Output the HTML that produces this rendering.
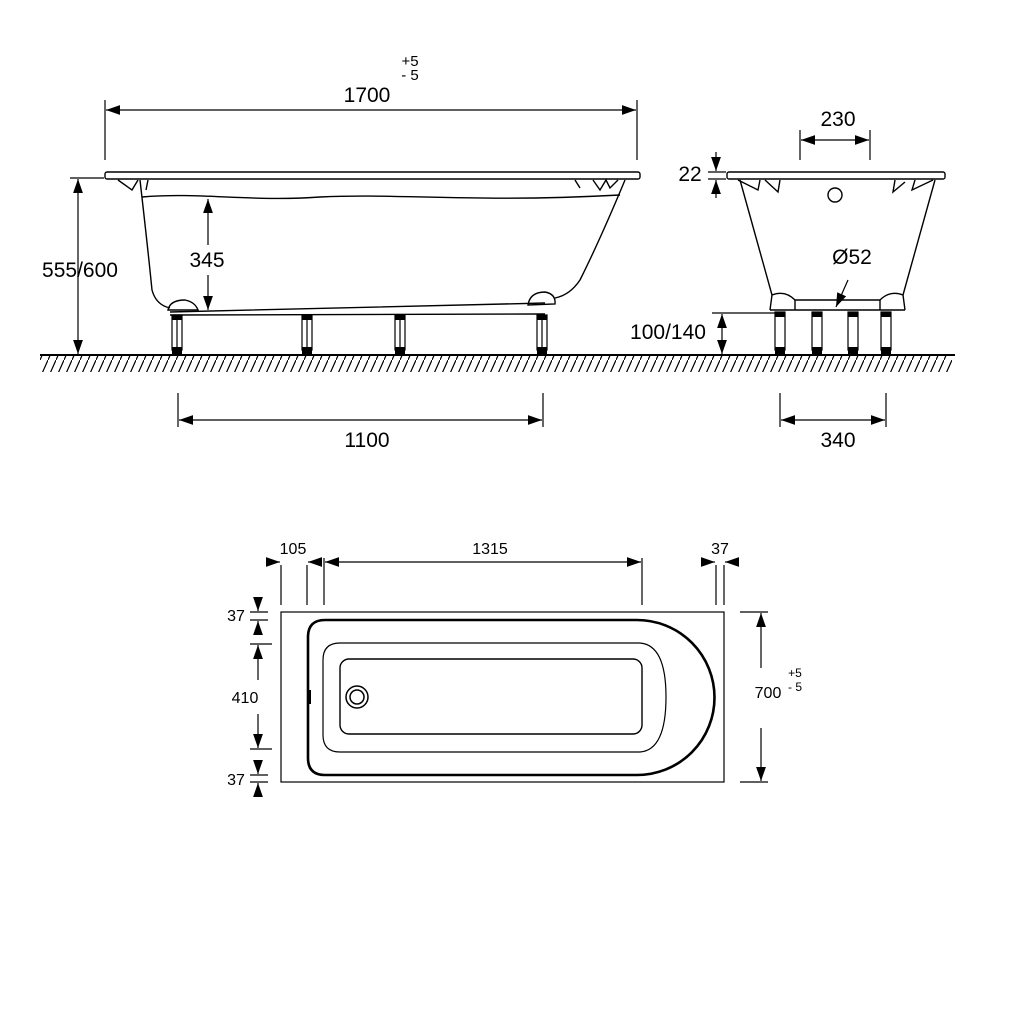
<!DOCTYPE html>
<html><head><meta charset="utf-8"><style>body{margin:0;background:#fff}svg{display:block}text{font-family:"Liberation Sans",sans-serif;fill:#000}</style></head><body>
<svg width="1024" height="1024" viewBox="0 0 1024 1024" xmlns="http://www.w3.org/2000/svg">
<defs>
<marker id="a" viewBox="0 0 10 10" refX="10" refY="5" markerWidth="14" markerHeight="14" markerUnits="userSpaceOnUse" orient="auto-start-reverse"><path d="M0,1.5 L10,5 L0,8.5z" fill="#000"/></marker>
<pattern id="h" width="8" height="18" patternUnits="userSpaceOnUse"><path d="M0,18 L8,0" stroke="#000" stroke-width="1.2"/></pattern>
</defs>
<g fill="none" stroke="#000" stroke-width="1.4">
<line x1="40" y1="355" x2="955" y2="355" stroke-width="2"/>
<rect x="40" y="356" width="912" height="16" fill="url(#h)" stroke="none"/>
<rect x="105" y="172" width="535" height="7" rx="2"/>
<path d="M140,180 Q148,250 152,290 Q156,305 170,308"/>
<path d="M625,180 Q600,240 580,280 Q570,295 555,298"/>
<path d="M142,197 C200,192 250,202 320,197 C400,193 470,203 620,195"/>
<path d="M170,312 L545,303 M170,315 L545,314"/>
<path d="M168,310 Q170,300 185,300 Q195,302 198,310 Z"/>
<path d="M528,305 Q530,292 545,292 Q556,294 555,304 Z"/>
<path d="M118,180 L132,190 L138,180 M148,180 L146,190"/>
<path d="M575,180 L580,188 M593,180 L600,190 L606,180 L610,188 L618,180"/>
<g stroke-width="1.2">
<rect x="172" y="315" width="10" height="35"/><rect x="302" y="315" width="10" height="35"/><rect x="395" y="315" width="10" height="35"/><rect x="537" y="315" width="10" height="35"/>
<line x1="177" y1="318" x2="177" y2="348"/><line x1="307" y1="318" x2="307" y2="348"/><line x1="400" y1="318" x2="400" y2="348"/><line x1="542" y1="318" x2="542" y2="348"/>
</g>
<g fill="#000" stroke="none"><rect x="172" y="347" width="10" height="8"/><rect x="302" y="347" width="10" height="8"/><rect x="395" y="347" width="10" height="8"/><rect x="537" y="347" width="10" height="8"/>
<rect x="172" y="315" width="10" height="5"/><rect x="302" y="315" width="10" height="5"/><rect x="395" y="315" width="10" height="5"/><rect x="537" y="315" width="10" height="5"/></g>
<g stroke-width="1.2">
<line x1="105" y1="100" x2="105" y2="160"/><line x1="637" y1="100" x2="637" y2="160"/>
<line x1="106" y1="110" x2="636" y2="110" marker-start="url(#a)" marker-end="url(#a)"/>
<line x1="78" y1="179" x2="78" y2="354" marker-start="url(#a)" marker-end="url(#a)"/>
<line x1="70" y1="178" x2="104" y2="178"/>
<line x1="208" y1="199" x2="208" y2="245" marker-start="url(#a)"/><line x1="208" y1="275" x2="208" y2="310" marker-end="url(#a)"/>
<line x1="178" y1="393" x2="178" y2="427"/><line x1="543" y1="393" x2="543" y2="427"/>
<line x1="179" y1="420" x2="542" y2="420" marker-start="url(#a)" marker-end="url(#a)"/>
</g>
<rect x="727" y="172" width="218" height="7" rx="2"/>
<path d="M740,180 L772,295 M935,180 L903,295"/>
<path d="M770,310 L772,295 Q785,290 795,300 L880,300 Q890,290 903,295 L905,310"/>
<path d="M770,310 L905,310 M795,300 L795,310 M880,300 L880,310"/>
<circle cx="835" cy="195" r="7"/>
<path d="M738,180 L758,190 L760,180 M765,180 L778,192 L780,180 M895,180 L893,192 L905,182 M915,180 L912,190 L933,180"/>
<g stroke-width="1.2">
<rect x="775" y="312" width="10" height="38"/><rect x="812" y="312" width="10" height="38"/><rect x="848" y="312" width="10" height="38"/><rect x="881" y="312" width="10" height="38"/>
</g>
<g fill="#000" stroke="none"><rect x="775" y="347" width="10" height="8"/><rect x="812" y="347" width="10" height="8"/><rect x="848" y="347" width="10" height="8"/><rect x="881" y="347" width="10" height="8"/>
<rect x="775" y="312" width="10" height="5"/><rect x="812" y="312" width="10" height="5"/><rect x="848" y="312" width="10" height="5"/><rect x="881" y="312" width="10" height="5"/></g>
<g stroke-width="1.2">
<line x1="800" y1="130" x2="800" y2="160"/><line x1="870" y1="130" x2="870" y2="160"/>
<line x1="801" y1="140" x2="869" y2="140" marker-start="url(#a)" marker-end="url(#a)"/>
<line x1="716" y1="152" x2="716" y2="171" marker-end="url(#a)"/><line x1="716" y1="198" x2="716" y2="180" marker-end="url(#a)"/>
<line x1="708" y1="172" x2="726" y2="172"/><line x1="708" y1="179" x2="726" y2="179"/>
<line x1="848" y1="280" x2="836" y2="307" marker-end="url(#a)"/>
<line x1="712" y1="313" x2="778" y2="313"/>
<line x1="722" y1="314" x2="722" y2="354" marker-start="url(#a)" marker-end="url(#a)"/>
<line x1="780" y1="393" x2="780" y2="427"/><line x1="886" y1="393" x2="886" y2="427"/>
<line x1="781" y1="420" x2="885" y2="420" marker-start="url(#a)" marker-end="url(#a)"/>
</g>
<rect x="281" y="612" width="443" height="170" stroke-width="1.2"/>
<path d="M325,620 H637 A77.5,77.5 0 0 1 637,775 H325 Q308,775 308,758 V637 Q308,620 325,620 Z" stroke-width="2.6"/>
<path d="M340,643 H640 Q666,645 666,697 Q666,750 640,752 H340 Q323,752 323,735 V660 Q323,643 340,643 Z" stroke-width="1.2"/>
<rect x="340" y="659" width="302" height="75" rx="9" stroke-width="1.4"/>
<circle cx="357" cy="697" r="11" stroke-width="1.5"/><circle cx="357" cy="697" r="7" stroke-width="1.5"/>
<line x1="310" y1="690" x2="310" y2="704" stroke-width="2"/>
<g stroke-width="1.2">
<line x1="281" y1="565" x2="281" y2="605"/><line x1="307" y1="565" x2="307" y2="605"/><line x1="324" y1="558" x2="324" y2="605"/><line x1="642" y1="558" x2="642" y2="605"/>
<line x1="267" y1="562" x2="280" y2="562" marker-end="url(#a)"/><line x1="321" y1="562" x2="308" y2="562" marker-end="url(#a)"/>
<line x1="325" y1="562" x2="641" y2="562" marker-start="url(#a)" marker-end="url(#a)"/>
<line x1="716" y1="565" x2="716" y2="605"/><line x1="724" y1="565" x2="724" y2="605"/>
<line x1="702" y1="562" x2="715" y2="562" marker-end="url(#a)"/><line x1="738" y1="562" x2="725" y2="562" marker-end="url(#a)"/>
<line x1="250" y1="612" x2="268" y2="612"/><line x1="250" y1="620" x2="268" y2="620"/>
<line x1="258" y1="598" x2="258" y2="611" marker-end="url(#a)"/><line x1="258" y1="634" x2="258" y2="621" marker-end="url(#a)"/>
<line x1="250" y1="644" x2="272" y2="644"/><line x1="250" y1="749" x2="272" y2="749"/>
<line x1="258" y1="645" x2="258" y2="680" marker-start="url(#a)"/><line x1="258" y1="714" x2="258" y2="748" marker-end="url(#a)"/>
<line x1="250" y1="775" x2="268" y2="775"/><line x1="250" y1="782" x2="268" y2="782"/>
<line x1="258" y1="761" x2="258" y2="774" marker-end="url(#a)"/><line x1="258" y1="796" x2="258" y2="783" marker-end="url(#a)"/>
<line x1="740" y1="612" x2="768" y2="612"/><line x1="740" y1="782" x2="768" y2="782"/>
<line x1="761" y1="613" x2="761" y2="668" marker-start="url(#a)"/><line x1="761" y1="728" x2="761" y2="781" marker-end="url(#a)"/>
</g>
</g>
<g font-size="21">
<text x="367" y="102" text-anchor="middle">1700</text>
<text x="410" y="66" font-size="15" text-anchor="middle">+5</text>
<text x="410" y="80" font-size="15" text-anchor="middle">- 5</text>
<text x="80" y="277" text-anchor="middle">555/600</text>
<text x="207" y="267" text-anchor="middle">345</text>
<text x="367" y="447" text-anchor="middle">1100</text>
<text x="838" y="126" text-anchor="middle">230</text>
<text x="690" y="181" text-anchor="middle">22</text>
<text x="852" y="264" text-anchor="middle">Ø52</text>
<text x="668" y="339" text-anchor="middle">100/140</text>
<text x="838" y="447" text-anchor="middle">340</text>
</g>
<g font-size="16">
<text x="293" y="554" text-anchor="middle">105</text>
<text x="490" y="554" text-anchor="middle">1315</text>
<text x="720" y="554" text-anchor="middle">37</text>
<text x="236" y="621" text-anchor="middle">37</text>
<text x="245" y="703" text-anchor="middle">410</text>
<text x="236" y="785" text-anchor="middle">37</text>
<text x="768" y="698" text-anchor="middle">700</text>
<text x="795" y="677" font-size="12" text-anchor="middle">+5</text>
<text x="795" y="691" font-size="12" text-anchor="middle">- 5</text>
</g>
</svg>
</body></html>
